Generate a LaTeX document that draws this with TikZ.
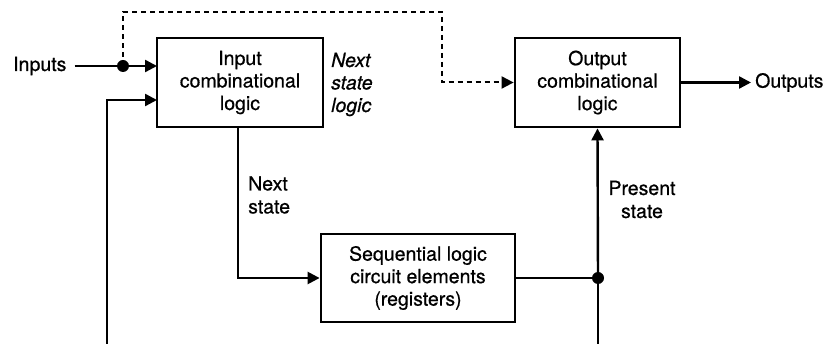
\documentclass[tikz,border=0pt]{standalone}
\usepackage{fontspec}
\setmainfont{TeX Gyre Heros}[FakeBold=0.6]
\usetikzlibrary{arrows.meta}
\begin{document}
\begin{tikzpicture}[x=1pt,y=-1pt,
  line width=2.4pt,
  arr/.style={-{Triangle[length=12pt,width=12pt]}},
  blk/.style={draw,rectangle,line width=2.8pt,inner sep=0pt,align=center,font=\fontsize{19.5}{22.5}\selectfont},
  lbl/.style={inner sep=0pt,font=\fontsize{19.5}{23}\selectfont},
  junction/.style={circle,fill,inner sep=0pt,minimum size=12pt},
  dsh/.style={dash pattern=on 5pt off 4pt, line width=2pt}]
\useasboundingbox (0,0) rectangle (828,344);
\node[blk,minimum width=166pt,minimum height=89pt] (inbox) at (240,82.5) {Input\\combinational\\logic};
\node[blk,minimum width=165pt,minimum height=89pt] (outbox) at (597.5,82.5) {Output\\combinational\\logic};
\node[blk,minimum width=194pt,minimum height=88pt] (seqbox) at (418,278) {Sequential logic\\circuit elements\\(registers)};
\node[lbl,anchor=west] (inputs) at (12,66) {Inputs};
\node[lbl,anchor=west,inner sep=3pt] (outputs) at (751,82.5) {Outputs};
\node[lbl,anchor=west,align=left,font=\fontsize{19.5}{22.5}\selectfont\itshape] (nsl) at (330,84.5) {Next\\state\\logic};
\node[lbl,anchor=west,align=left] (ns) at (247,195) {Next\\state};
\node[lbl,align=center] (ps) at (642,199.5) {Present\\state};
\node[junction] (dot1) at (123,66) {};
\node[junction] (dot2) at (598,278) {};
\coordinate (in1) at (157,66);
\coordinate (in2) at (157,100);
\coordinate (fbl) at (107,344);
\coordinate (fbr) at (598,344);
\coordinate (dtop) at (442,12);
% inputs
\draw (inputs.east) ++(7,0) -- (dot1.center);
\draw[arr] (dot1.center) -- (in1);
% feedback
\draw[arr] (fbl) |- (in2);
\draw (dot2.center) -- (fbr);
% next state
\draw[arr] (inbox.south -| 238,0) |- (seqbox.west);
% present state
\draw (seqbox.east) -- (dot2.center);
\draw[arr] (dot2.center) -- (outbox.south);
% dashed
\draw[dsh,arr] (dot1.center) |- (dtop) |- (outbox.west);
% outputs
\draw[arr] (outbox.east) -- (outputs.west);
\end{tikzpicture}
\end{document}
